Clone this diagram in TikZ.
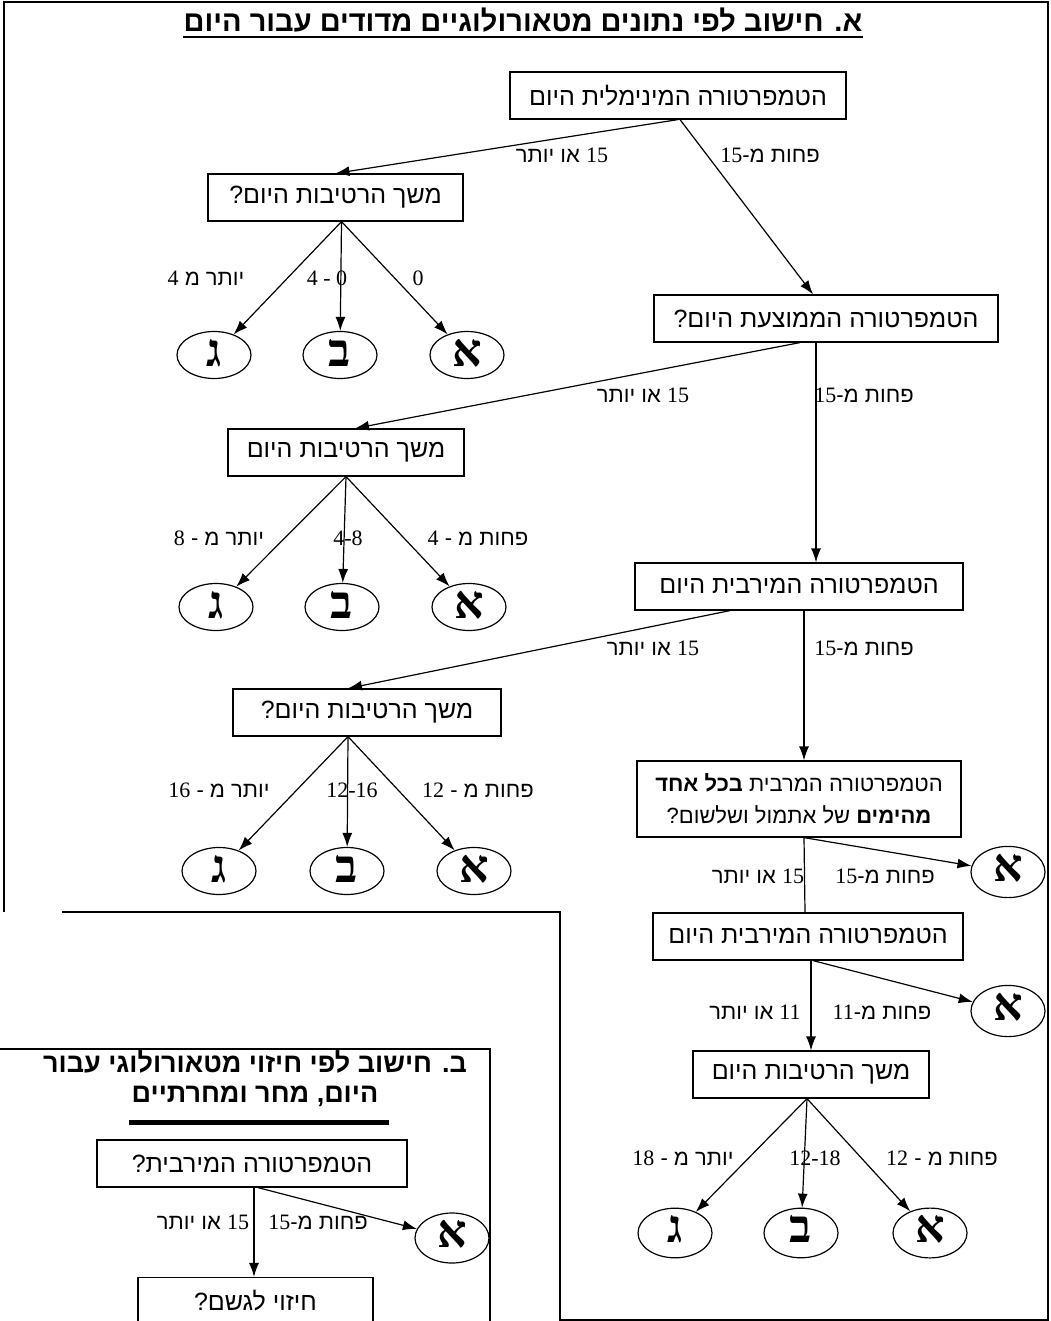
\documentclass[tikz,border=0pt]{standalone}
\usepackage{fontspec}
\setmainfont{Liberation Serif}
\newfontfamily\hebfont[Script=Hebrew]{Liberation Sans}
\newfontfamily\hebserif[Script=Hebrew]{Liberation Serif}
\TeXXeTstate=1
\usetikzlibrary{arrows.meta,shapes.geometric}

\newcommand{\hebr}[1]{\beginR #1\endR}
\newcommand{\nm}[1]{{\rmfamily #1}}

\tikzset{
  box/.style={draw, line width=1.2pt, minimum height=47pt, inner sep=0pt,
    font=\hebfont\fontsize{25}{32}\selectfont},
  leaf/.style={ellipse, draw, line width=1.2pt, minimum width=74pt,
    minimum height=47pt, inner sep=0pt,
    font=\hebserif\bfseries\fontsize{46}{46}\selectfont},
  cond/.style={inner sep=0pt, font=\hebfont\fontsize{22}{24}\selectfont},
  digits/.style={inner sep=0pt, font=\rmfamily\fontsize{22}{24}\selectfont},
  headline/.style={inner sep=0pt, align=center,
    font=\hebfont\bfseries\fontsize{29}{31}\selectfont},
}

\begin{document}
\begin{tikzpicture}[x=1pt, y=-1pt, line width=1.2pt, >={Latex[length=14pt,width=10pt]}]
      \useasboundingbox (0,0) rectangle (1050,1321);

      % frames
      \draw[line width=1.5pt] (62,912) -- (560,912) -- (560,1320) -- (1048,1320)
        -- (1048,2) -- (4,2) -- (4,912);
      \draw[line width=1.5pt] (0,1049) -- (490,1049) -- (490,1321);

      \node[headline] (titleA) at (523,20) {\hebr{א. חישוב לפי נתונים מטאורולוגיים מדודים עבור היום}};
      \draw[line width=2pt] ([yshift=-4pt]titleA.south west) -- ([yshift=-4pt]titleA.south east);

      % part A
      \node[box, minimum width=336pt] (tmin) at (678,95.5) {\hebr{הטמפרטורה המינימלית היום}};
      \node[box, minimum width=255pt] (wet1) at (335.5,197.5) {\hebr{משך הרטיבות היום?}};
      \node[box, minimum width=344pt] (tavg) at (826,318.5) {\hebr{הטמפרטורה הממוצעת היום?}};
      \node[box, minimum width=236pt] (wet2) at (346,452.5) {\hebr{משך הרטיבות היום}};
      \node[box, minimum width=328pt] (tmax1) at (799,586.5) {\hebr{הטמפרטורה המירבית היום}};
      \node[box, minimum width=268pt] (wet3) at (367,712.5) {\hebr{משך הרטיבות היום?}};
      \node[box, minimum width=324pt, minimum height=76pt, align=center,
        font=\hebfont\fontsize{22}{32}\selectfont] (tmaxb) at (799,799)
        {\hebr{הטמפרטורה המרבית {\bfseries בכל אחד}}\\
         \hebr{{\bfseries מהימים} של אתמול ושלשום?}};
      \node[box, minimum width=310pt] (tmax2) at (808,936.5) {\hebr{הטמפרטורה המירבית היום}};
      \node[box, minimum width=236pt] (wet4) at (811,1074.5) {\hebr{משך הרטיבות היום}};

      \node[leaf] (c1) at (214,355) {\raisebox{4pt}{\hebr{ג}}};
      \node[leaf] (b1) at (340,355) {\raisebox{4pt}{\hebr{ב}}};
      \node[leaf] (a1) at (467,355) {\raisebox{4pt}{\hebr{א}}};
      \node[leaf] (c2) at (216,607) {\raisebox{4pt}{\hebr{ג}}};
      \node[leaf] (b2) at (342,607) {\raisebox{4pt}{\hebr{ב}}};
      \node[leaf] (a2) at (469,607) {\raisebox{4pt}{\hebr{א}}};
      \node[leaf] (c3) at (219,871) {\raisebox{4pt}{\hebr{ג}}};
      \node[leaf] (b3) at (347,871) {\raisebox{4pt}{\hebr{ב}}};
      \node[leaf] (a3) at (474,871) {\raisebox{4pt}{\hebr{א}}};
      \node[leaf] (a4) at (1008,872) {\raisebox{9pt}{\hebr{א}}};
      \node[leaf] (a5) at (1008,1011) {\raisebox{9pt}{\hebr{א}}};
      \node[leaf] (c4) at (675,1233) {\raisebox{8pt}{\hebr{ג}}};
      \node[leaf] (b4) at (801,1233) {\raisebox{8pt}{\hebr{ב}}};
      \node[leaf] (a6) at (930,1233) {\raisebox{8pt}{\hebr{א}}};

      \draw[->] (tmin.south) -- (wet1.north);
      \draw[->] ([xshift=2pt]tmin.south) -- ([xshift=-13pt]tavg.north);
      \node[cond] (t1) at (562,155) {\hebr{\nm{15} או יותר}};
      \node[cond] (t2) at (770,155) {\hebr{פחות מ-\nm{15}}};

      \path[->] ([xshift=6pt]wet1.south) edge (c1) edge (b1) edge (a1);
      \node[cond] (t3) at (206,278) {\hebr{יותר מ \nm{4}}};
      \node[digits] (t4) at (327,278) {4 - 0};
      \node[digits] (t5) at (418,278) {0};

      \draw[->] ([xshift=-26pt]tavg.south) -- ([xshift=9pt]wet2.north);
      \draw[->] ([xshift=-10pt]tavg.south) -- ([xshift=17pt]tmax1.north);
      \node[cond] (t6) at (643,395) {\hebr{\nm{15} או יותר}};
      \node[cond] (t7) at (864,395) {\hebr{פחות מ-\nm{15}}};

      \path[->] (wet2.south) edge (c2) edge (b2) edge (a2);
      \node[cond] (t8) at (219,538) {\hebr{יותר מ - \nm{8}}};
      \node[digits] (t9) at (348,538) {4-8};
      \node[cond] (t10) at (478,538) {\hebr{פחות מ - \nm{4}}};

      \draw[->] ([xshift=-69pt]tmax1.south) -- ([xshift=-19pt]wet3.north);
      \draw[->] ([xshift=5pt]tmax1.south) -- ([xshift=5pt]tmaxb.north);
      \node[cond] (t11) at (653,648) {\hebr{\nm{15} או יותר}};
      \node[cond] (t12) at (864,648) {\hebr{פחות מ-\nm{15}}};

      \path[->] ([xshift=-19pt]wet3.south) edge (c3) edge (b3) edge (a3);
      \node[cond] (t13) at (219,790) {\hebr{יותר מ - \nm{16}}};
      \node[digits] (t14) at (352,790) {12-16};
      \node[cond] (t15) at (478,790) {\hebr{פחות מ - \nm{12}}};

      \draw[->] ([xshift=5pt]tmaxb.south) -- (a4);
      \draw ([xshift=5pt]tmaxb.south) -- ([xshift=-3pt]tmax2.north);
      \node[cond] (t16) at (758,876) {\hebr{\nm{15} או יותר}};
      \node[cond] (t17) at (885,876) {\hebr{פחות מ-\nm{15}}};

      \draw[->] ([xshift=5pt]tmax2.south) -- (a5);
      \draw[->] ([xshift=3pt]tmax2.south) -- (wet4.north);
      \node[cond] (t18) at (755,1012) {\hebr{\nm{11} או יותר}};
      \node[cond] (t19) at (882,1012) {\hebr{פחות מ-\nm{11}}};

      \path[->] ([xshift=-4pt]wet4.south) edge (c4) edge (b4) edge (a6);
      \node[cond] (t20) at (683,1158) {\hebr{יותר מ - \nm{18}}};
      \node[digits] (t21) at (815,1158) {12-18};
      \node[cond] (t22) at (942,1158) {\hebr{פחות מ - \nm{12}}};

      % part B
      \node[headline, font=\hebfont\bfseries\fontsize{27}{30}\selectfont] (titleB) at (255,1079)
        {\hebr{ב. חישוב לפי חיזוי מטאורולוגי עבור}\\\hebr{היום, מחר ומחרתיים}};
      \draw[line width=5pt] (129,1122) -- (389,1122);

      \node[box, minimum width=310pt] (fmax) at (252,1163.5) {\hebr{הטמפרטורה המירבית?}};
      \node[box, minimum width=235pt] (rain) at (255.5,1301) {\hebr{חיזוי לגשם?}};
      \node[leaf, minimum height=50pt] (a7) at (452,1238) {\raisebox{8pt}{\hebr{א}}};

      \draw[->] ([xshift=6pt]fmax.south) -- (a7);
      \draw[->] ([xshift=2pt]fmax.south) -- ([xshift=-1.5pt]rain.north);
      \node[cond] (t23) at (203,1222) {\hebr{\nm{15} או יותר}};
      \node[cond] (t24) at (318,1222) {\hebr{פחות מ-\nm{15}}};
\end{tikzpicture}
\end{document}
